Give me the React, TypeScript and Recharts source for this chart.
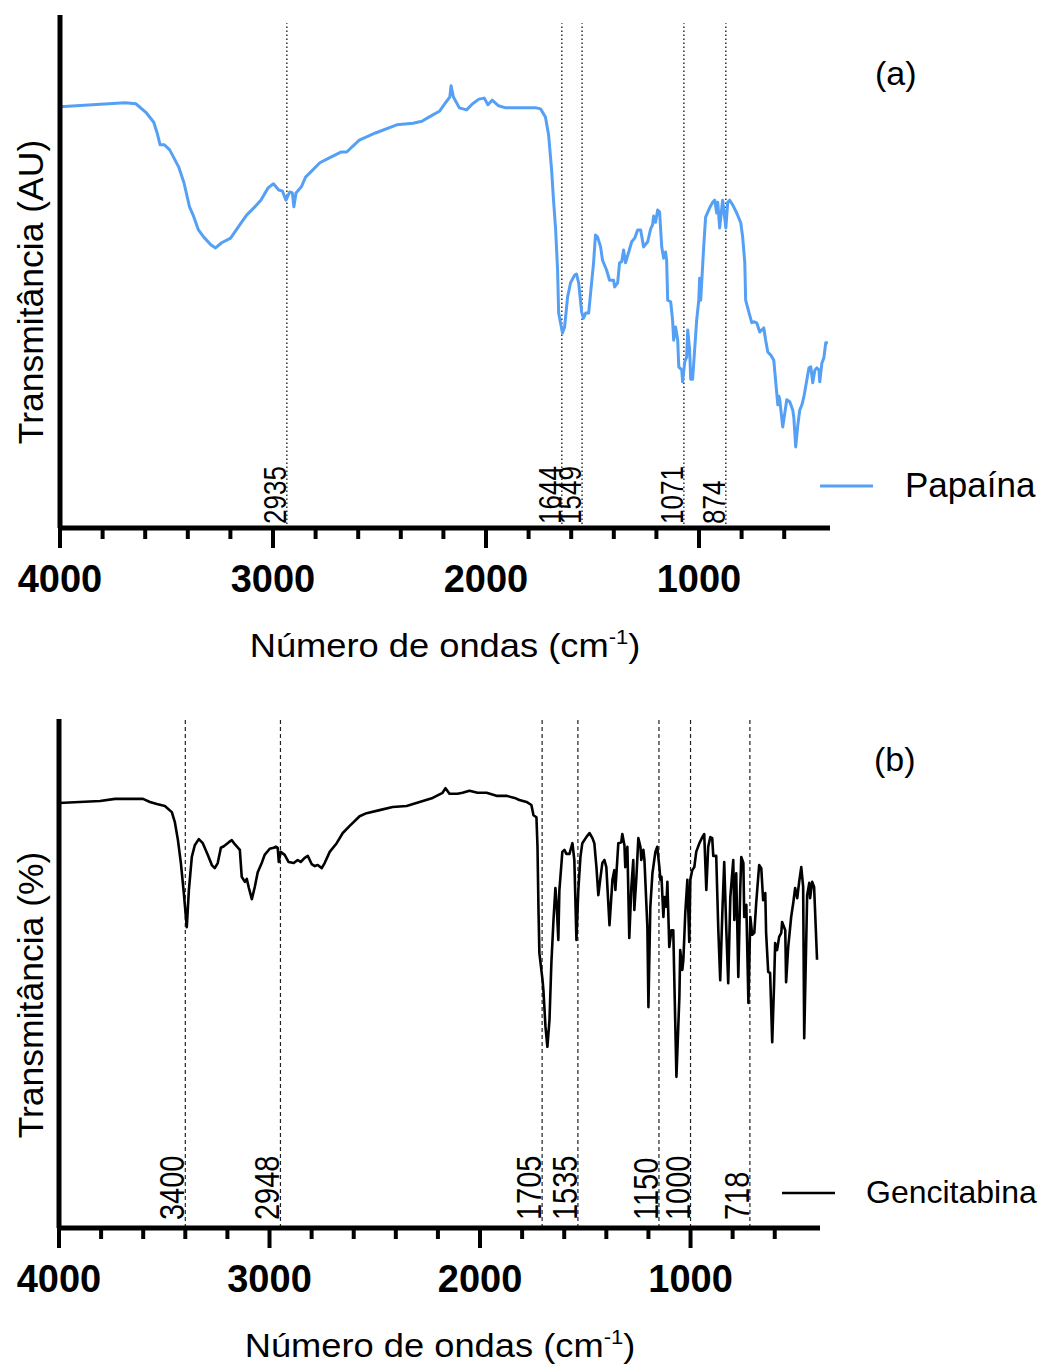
import { LineChart, Line, XAxis, YAxis, ReferenceLine } from 'recharts'

const FONT = '"Liberation Sans", Arial, sans-serif'

// FTIR spectra: [wavenumber cm-1, transmittance (arbitrary 0-100)]
const papaina: [number, number][] = [
  [4000, 82.1], [3695, 82.9], [3644, 82.7], [3594, 80.9], [3560, 79.1], [3544, 77.0], [3530, 74.7],
  [3510, 74.7], [3485, 73.7], [3443, 70.4], [3418, 67.3], [3392, 62.6], [3375, 61.0], [3350, 58.1],
  [3325, 56.7], [3292, 55.2], [3270, 54.6], [3241, 55.6], [3199, 56.5], [3166, 58.5], [3124, 61.0],
  [3090, 62.4], [3057, 63.9], [3023, 66.3], [2998, 67.1], [2973, 65.9], [2956, 65.7], [2939, 63.9],
  [2922, 65.5], [2909, 65.3], [2902, 62.6], [2892, 65.3], [2867, 66.5], [2847, 68.4], [2813, 69.8],
  [2780, 71.2], [2738, 72.1], [2679, 73.3], [2654, 73.3], [2595, 75.6], [2519, 77.0], [2419, 78.6],
  [2343, 78.9], [2301, 79.3], [2268, 80.1], [2217, 81.3], [2192, 82.8], [2170, 84.0], [2164, 86.2],
  [2153, 84.0], [2125, 81.9], [2091, 81.5], [2063, 82.7], [2033, 83.6], [2008, 83.8], [1991, 82.5],
  [1971, 83.4], [1941, 82.3], [1907, 81.9], [1764, 81.9], [1744, 81.7], [1721, 80.1], [1706, 76.6],
  [1692, 69.8], [1683, 63.9], [1673, 58.1], [1664, 50.3], [1659, 41.9], [1641, 38.0], [1631, 39.2],
  [1617, 45.0], [1603, 47.8], [1584, 49.3], [1575, 49.5], [1565, 47.8], [1551, 42.1], [1542, 40.9],
  [1532, 41.9], [1518, 41.9], [1509, 45.8], [1495, 51.7], [1486, 57.1], [1476, 56.7], [1462, 54.8],
  [1453, 52.2], [1434, 50.3], [1420, 48.3], [1401, 48.3], [1396, 47.0], [1382, 47.8], [1373, 51.7],
  [1363, 51.9], [1354, 54.2], [1345, 51.7], [1330, 53.8], [1316, 55.8], [1302, 56.5], [1288, 58.1],
  [1274, 58.1], [1260, 54.8], [1241, 55.8], [1227, 58.3], [1218, 59.1], [1213, 60.8], [1204, 59.6],
  [1194, 62.0], [1185, 61.6], [1175, 54.8], [1166, 52.6], [1157, 53.8], [1152, 52.2], [1147, 44.4],
  [1133, 44.1], [1124, 40.5], [1119, 36.6], [1110, 39.2], [1100, 36.6], [1095, 31.4], [1081, 30.8],
  [1077, 28.5], [1067, 32.4], [1058, 33.3], [1053, 38.6], [1044, 34.7], [1039, 29.0], [1030, 29.0],
  [1011, 40.5], [1001, 44.4], [997, 48.7], [992, 44.4], [978, 54.8], [969, 60.6], [950, 62.4],
  [936, 63.5], [926, 63.9], [917, 61.4], [912, 63.5], [903, 58.5], [893, 62.4], [889, 63.9],
  [874, 58.5], [865, 63.5], [856, 63.9], [842, 63.0], [823, 61.4], [804, 59.5], [795, 56.7],
  [785, 51.7], [781, 44.4], [766, 42.1], [752, 40.0], [743, 40.2], [729, 40.0], [715, 38.2],
  [696, 39.0], [687, 36.6], [677, 34.3], [663, 33.7], [649, 32.7], [635, 26.3], [630, 24.0],
  [625, 25.7], [621, 25.0], [607, 19.7], [593, 23.6], [588, 25.0], [574, 24.6], [560, 23.0],
  [555, 21.6], [546, 15.8], [536, 20.1], [527, 23.0], [517, 24.0], [508, 25.5], [494, 28.8],
  [484, 31.2], [475, 31.4], [466, 28.3], [456, 30.8], [447, 31.2], [437, 30.8], [433, 28.5],
  [423, 32.2], [414, 33.1], [405, 36.1], [395, 36.1],
]

const gencitabina: [number, number][] = [
  [4000, 83.5], [3805, 83.9], [3734, 84.3], [3601, 84.3], [3568, 83.7], [3535, 83.3], [3497, 82.9],
  [3464, 81.7], [3450, 79.8], [3435, 76.2], [3421, 71.7], [3407, 65.8], [3393, 59.1], [3383, 66.4],
  [3369, 72.9], [3355, 75.2], [3336, 76.4], [3317, 75.6], [3293, 73.3], [3274, 71.3], [3260, 70.7],
  [3246, 71.7], [3231, 74.7], [3217, 75.0], [3193, 75.8], [3179, 76.2], [3165, 75.4], [3141, 74.3],
  [3132, 69.0], [3117, 68.0], [3108, 68.6], [3098, 66.8], [3084, 64.6], [3070, 67.0], [3056, 69.9],
  [3037, 71.7], [3023, 73.3], [2999, 74.5], [2980, 74.7], [2970, 74.9], [2961, 74.7], [2956, 71.9],
  [2947, 73.9], [2928, 73.3], [2909, 71.9], [2885, 71.7], [2866, 72.3], [2852, 71.9], [2833, 72.7],
  [2818, 73.1], [2800, 71.5], [2785, 71.1], [2771, 71.3], [2752, 70.7], [2738, 71.7], [2714, 73.9],
  [2681, 75.6], [2652, 77.6], [2619, 79.0], [2572, 80.9], [2539, 81.5], [2477, 82.1], [2415, 82.7],
  [2349, 82.9], [2287, 83.7], [2225, 84.5], [2178, 85.5], [2164, 86.4], [2145, 85.3], [2107, 85.3],
  [2083, 85.5], [2050, 85.9], [2012, 85.5], [1969, 85.5], [1922, 84.9], [1874, 84.9], [1836, 84.5],
  [1813, 84.1], [1779, 83.7], [1756, 83.1], [1746, 81.1], [1732, 80.7], [1727, 74.9], [1722, 61.9],
  [1718, 54.0], [1703, 48.7], [1699, 46.8], [1689, 39.5], [1680, 35.6], [1670, 40.9], [1661, 52.1],
  [1651, 60.5], [1642, 66.8], [1637, 64.4], [1628, 56.6], [1623, 66.4], [1613, 71.7], [1609, 73.9],
  [1599, 74.3], [1590, 73.5], [1575, 73.5], [1566, 74.9], [1561, 75.6], [1552, 72.3], [1542, 56.6],
  [1533, 66.4], [1523, 72.9], [1514, 75.6], [1495, 76.8], [1480, 77.6], [1466, 76.6], [1457, 75.6],
  [1447, 70.9], [1438, 65.4], [1428, 68.8], [1419, 71.7], [1409, 72.3], [1400, 70.9], [1385, 59.5],
  [1371, 68.4], [1362, 70.3], [1357, 66.4], [1348, 72.3], [1343, 75.6], [1329, 75.8], [1324, 77.4],
  [1314, 75.2], [1310, 70.9], [1300, 74.9], [1291, 57.0], [1281, 67.0], [1272, 72.3], [1267, 62.5],
  [1257, 69.0], [1248, 76.6], [1238, 74.9], [1234, 72.3], [1224, 74.3], [1219, 72.3], [1205, 59.1],
  [1200, 43.4], [1191, 63.1], [1181, 69.7], [1167, 73.9], [1158, 74.9], [1148, 70.9], [1143, 68.4],
  [1138, 69.0], [1129, 61.1], [1124, 65.0], [1115, 63.1], [1110, 68.0], [1101, 55.2], [1091, 58.5],
  [1082, 58.5], [1077, 48.7], [1067, 29.7], [1053, 45.4], [1049, 54.6], [1039, 50.7], [1034, 52.7],
  [1025, 61.9], [1015, 68.4], [1006, 56.2], [1001, 68.4], [992, 70.3], [982, 70.9], [973, 73.9],
  [958, 75.6], [944, 76.8], [935, 77.4], [925, 66.4], [916, 74.9], [906, 76.8], [897, 76.6],
  [892, 73.1], [878, 73.1], [868, 58.5], [859, 48.7], [849, 61.9], [840, 71.9], [830, 58.5],
  [821, 48.1], [811, 65.0], [797, 72.3], [792, 60.5], [783, 69.7], [773, 49.3], [764, 66.4],
  [759, 72.9], [749, 71.7], [745, 61.1], [735, 63.5], [725, 44.2], [716, 61.1], [707, 57.6],
  [697, 58.0], [688, 63.9], [674, 71.3], [664, 70.7], [655, 64.4], [645, 65.8], [641, 58.0],
  [631, 50.3], [622, 50.1], [612, 36.5], [603, 48.1], [598, 56.0], [589, 54.6], [579, 57.2],
  [569, 58.0], [565, 60.1], [550, 58.5], [546, 48.3], [536, 55.2], [522, 61.1], [512, 63.9],
  [503, 66.8], [493, 64.8], [484, 68.0], [474, 70.9], [465, 67.0], [460, 37.3], [446, 65.4],
  [436, 67.8], [432, 64.8], [422, 68.0], [413, 67.0], [399, 52.7],
]

const papainaPeaks = [2935, 1644, 1549, 1071, 874]
const gencitabinaPeaks = [3400, 2948, 1705, 1535, 1150, 1000, 718]
const waveTicks = [4000, 3800, 3600, 3400, 3200, 3000, 2800, 2600, 2400, 2200, 2000, 1800, 1600, 1400, 1200, 1000, 800, 600]

const toRows = (pts: [number, number][]) => pts.map(([wave, t]) => ({ wave, t }))

function WaveTick(props: any) {
  const { x, y, payload } = props
  const major = payload.value % 1000 === 0
  return (
    <g>
      <line x1={x} x2={x} y1={y} y2={y + (major ? 20 : 11)} stroke="#000" strokeWidth={4} />
      {major && (
        <text x={x} y={y + 64} textAnchor="middle" fontFamily={FONT} fontWeight="bold" fontSize={38} fill="#000">
          {payload.value}
        </text>
      )}
    </g>
  )
}

// rotated peak label sitting just left of its reference line
const peakLabel = (value: number, size: number, gap: number) => (props: any) => {
  const vb = props.viewBox
  const x = vb.x - 1
  const y = vb.y + vb.height - gap
  return (
    <text transform={`translate(${x},${y}) rotate(-90) scale(1,1.22)`} x={0} y={0}
      fontFamily={FONT} fontSize={size} fill="#000">
      {value}
    </text>
  )
}

interface PanelProps {
  rows: { wave: number; t: number }[]
  peaks: number[]
  color: string
  stroke: number
  top: number
  left: number
  right: number
  bottom: number
  height: number
  dotted: boolean
  labelSize: number
  labelGap: number
}

function Panel(p: PanelProps) {
  return (
    <LineChart width={1043} height={p.height} data={p.rows}
      margin={{ top: p.top, left: p.left - 10, right: p.right, bottom: p.bottom - 70 }}>
      <XAxis dataKey="wave" type="number" domain={[385, 4000]} reversed allowDataOverflow
        ticks={waveTicks} interval={0} tick={<WaveTick />} tickLine={false} tickSize={0} tickMargin={0}
        height={70} axisLine={{ stroke: '#000', strokeWidth: 5 }} />
      <YAxis type="number" domain={[0, 100]} tick={false} tickLine={false} width={10}
        axisLine={{ stroke: '#000', strokeWidth: 5 }} />
      {p.peaks.map(w => (
        p.dotted ? (
          <ReferenceLine key={w} segment={[{ x: w, y: 0 }, { x: w, y: 98.4 }]} stroke="#222"
            strokeWidth={1.4} strokeDasharray="1.5 2.5" label={peakLabel(w, p.labelSize, p.labelGap)} />
        ) : (
          <ReferenceLine key={w} x={w} stroke="#222" strokeWidth={1.2} strokeDasharray="4 3"
            label={peakLabel(w, p.labelSize, p.labelGap)} />
        )
      ))}
      <Line type="linear" dataKey="t" stroke={p.color} strokeWidth={p.stroke} dot={false}
        isAnimationActive={false} strokeLinejoin="round" />
    </LineChart>
  )
}

function XTitle({ x, y }: { x: number; y: number }) {
  return (
    <text transform={`translate(${x},${y}) scale(1.1,1)`} x={0} y={0} textAnchor="middle"
      fontFamily={FONT} fontSize={33} fill="#000">
      Número de ondas (cm<tspan dy={-13} fontSize={20}>-1</tspan><tspan dy={13}>)</tspan>
    </text>
  )
}

export default function App() {
  return (
    <div style={{ position: 'absolute', left: 0, top: 0, width: 1043, height: 1365, background: '#fff' }}>
      <div style={{ position: 'absolute', left: 0, top: 0 }}>
        <Panel rows={toRows(papaina)} peaks={papainaPeaks} color="#55a0f5" stroke={3}
          height={690} top={15} left={60} right={213} bottom={162} dotted labelSize={26} labelGap={4} />
      </div>
      <div style={{ position: 'absolute', left: 0, top: 690 }}>
        <Panel rows={toRows(gencitabina)} peaks={gencitabinaPeaks} color="#000" stroke={2.6}
          height={675} top={29} left={59} right={223} bottom={137} dotted={false} labelSize={29} labelGap={8} />
      </div>
      <svg width={1043} height={1365} style={{ position: 'absolute', left: 0, top: 0, pointerEvents: 'none' }}>
        <text transform="rotate(-90 43 292)" x={43} y={292} textAnchor="middle" fontFamily={FONT} fontSize={35.5} fill="#000">
          Transmitância (AU)
        </text>
        <text transform="rotate(-90 43 995)" x={43} y={995} textAnchor="middle" fontFamily={FONT} fontSize={35.5} fill="#000">
          Transmitância (%)
        </text>
        <XTitle x={445} y={657} />
        <XTitle x={440} y={1357} />
        <text x={875} y={85} fontFamily={FONT} fontSize={34} fill="#000">(a)</text>
        <text x={874} y={771} fontFamily={FONT} fontSize={34} fill="#000">(b)</text>
        <line x1={820} x2={873} y1={486} y2={486} stroke="#55a0f5" strokeWidth={3} />
        <text x={905} y={497} fontFamily={FONT} fontSize={35} fill="#000">Papaína</text>
        <line x1={782} x2={835} y1={1193} y2={1193} stroke="#000" strokeWidth={2.6} />
        <text x={866} y={1203} fontFamily={FONT} fontSize={32} fill="#000">Gencitabina</text>
      </svg>
    </div>
  )
}
